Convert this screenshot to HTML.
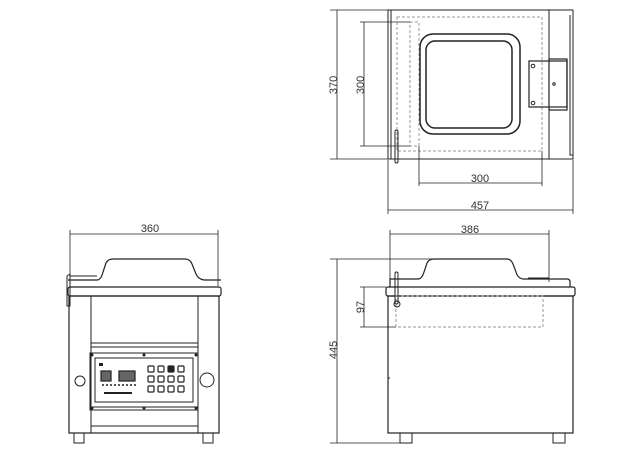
<!DOCTYPE html>
<html><head><style>html,body{margin:0;padding:0;background:#fff}svg{display:block}</style></head>
<body>
<svg width="640" height="452" viewBox="0 0 640 452" xmlns="http://www.w3.org/2000/svg" font-family="Liberation Sans, sans-serif" fill="none" stroke="#222" stroke-width="1">
<!-- TOP VIEW -->
<rect x="388" y="10" width="185" height="149"/>
<line x1="391" y1="10" x2="391" y2="159"/>
<line x1="549" y1="10" x2="549" y2="159"/>
<path d="M570 15 V155 H573"/>
<rect x="397" y="17" width="145" height="134" stroke="#999" stroke-dasharray="3,2"/>
<rect x="410" y="22" width="9" height="124" stroke="#999" stroke-dasharray="3,2"/>
<rect x="420" y="34" width="100" height="100" rx="13" stroke-width="1.5"/>
<rect x="426" y="41" width="86" height="87" rx="9" stroke-width="1.5"/>
<rect x="529" y="61" width="38" height="46" stroke-width="1.2"/>
<rect x="549" y="59" width="18" height="51" stroke-width="1.2"/>
<circle cx="533" cy="66" r="1.8"/><circle cx="533" cy="103" r="1.8"/><circle cx="554" cy="84" r="1.2"/>
<rect x="395" y="130" width="3" height="33" rx="1.5"/>
<!-- dims top -->
<g stroke-width="0.8">
<line x1="330" y1="10" x2="388" y2="10"/><line x1="330" y1="159" x2="388" y2="159"/>
<line x1="337" y1="10" x2="337" y2="159"/>
<line x1="360" y1="22" x2="410" y2="22"/><line x1="360" y1="146" x2="410" y2="146"/>
<line x1="364" y1="22" x2="364" y2="146"/>
<line x1="419" y1="146" x2="419" y2="186"/><line x1="542" y1="151" x2="542" y2="186"/>
<line x1="419" y1="183" x2="542" y2="183"/>
<line x1="388" y1="160" x2="388" y2="214"/><line x1="573" y1="160" x2="573" y2="214"/>
<line x1="388" y1="210" x2="573" y2="210"/>
</g>
<g fill="#333" stroke="none" font-size="11">
<text transform="translate(337,85) rotate(-90)" text-anchor="middle">370</text>
<text transform="translate(364,85) rotate(-90)" text-anchor="middle">300</text>
<text x="480" y="182" text-anchor="middle">300</text>
<text x="480" y="209" text-anchor="middle">457</text>
<text x="150" y="232" text-anchor="middle">360</text>
<text x="470" y="233" text-anchor="middle">386</text>
<text transform="translate(337,350) rotate(-90)" text-anchor="middle">445</text>
<text transform="translate(364,307) rotate(-90)" text-anchor="middle">97</text>
</g>
<!-- FRONT VIEW -->
<g stroke-width="0.8">
<line x1="70" y1="230" x2="70" y2="286"/><line x1="218" y1="230" x2="218" y2="286"/>
<line x1="70" y1="234" x2="218" y2="234"/>
</g>
<path d="M68 280 H97 Q101 280 103 272 L106 263 Q108 259 113 259 H185 Q190 259 192 264 L196 274 Q198 279 204 280 H221" stroke-width="1.2"/>
<path d="M70 274 V306 H67 V276 Z" stroke-width="1"/>
<line x1="70" y1="276" x2="97" y2="276"/>
<rect x="68" y="287" width="153" height="9" rx="2" stroke-width="1.2"/>
<rect x="69" y="296" width="150" height="137" stroke-width="1.2"/>
<line x1="91" y1="296" x2="91" y2="433"/><line x1="198" y1="296" x2="198" y2="433"/>
<line x1="91" y1="343" x2="198" y2="343"/>
<line x1="91" y1="347" x2="198" y2="347"/>
<line x1="91" y1="407" x2="198" y2="407"/>
<line x1="91" y1="426" x2="198" y2="426"/>
<rect x="90" y="353" width="108" height="57"/>
<rect x="95" y="358" width="98" height="44"/>
<g fill="#222" stroke="none">
<circle cx="92" cy="355" r="1.5"/><circle cx="144" cy="355" r="1.5"/><circle cx="196" cy="355" r="1.5"/>
<circle cx="92" cy="408" r="1.5"/><circle cx="144" cy="408" r="1.5"/><circle cx="196" cy="408" r="1.5"/>
<circle cx="103" cy="385" r="1"/><circle cx="107" cy="385" r="1"/><circle cx="111" cy="385" r="1"/><circle cx="115" cy="385" r="1"/><circle cx="119" cy="385" r="1"/><circle cx="123" cy="385" r="1"/><circle cx="127" cy="385" r="1"/><circle cx="131" cy="385" r="1"/><circle cx="135" cy="385" r="1"/>
<rect x="104" y="392" width="28" height="2"/>
<rect x="99" y="363" width="4" height="3"/>
</g>
<rect x="101" y="371" width="10" height="10" fill="#666" stroke-width="1.2"/>
<rect x="119" y="371" width="16" height="10" fill="#666" stroke-width="1.2"/>
<g stroke-width="1.2">
<rect x="148" y="366" width="6" height="6" rx="1"/><rect x="158" y="366" width="6" height="6" rx="1"/><rect x="168" y="366" width="6" height="6" rx="1" fill="#222"/><rect x="178" y="366" width="6" height="6" rx="1"/>
<rect x="148" y="376" width="6" height="6" rx="1"/><rect x="158" y="376" width="6" height="6" rx="1"/><rect x="168" y="376" width="6" height="6" rx="1"/><rect x="178" y="376" width="6" height="6" rx="1"/>
<rect x="148" y="386" width="6" height="6" rx="1"/><rect x="158" y="386" width="6" height="6" rx="1"/><rect x="168" y="386" width="6" height="6" rx="1"/><rect x="178" y="386" width="6" height="6" rx="1"/>
</g>
<circle cx="80" cy="381" r="5"/><circle cx="207" cy="380" r="7"/>
<rect x="74" y="433" width="10" height="10"/><rect x="203" y="433" width="10" height="10"/>
<!-- SIDE VIEW -->
<g stroke-width="0.8">
<line x1="390" y1="230" x2="390" y2="286"/><line x1="549" y1="230" x2="549" y2="282"/>
<line x1="390" y1="234" x2="549" y2="234"/>
<line x1="330" y1="259" x2="432" y2="259"/><line x1="330" y1="443" x2="400" y2="443"/>
<line x1="337" y1="259" x2="337" y2="443"/>
<line x1="360" y1="287" x2="386" y2="287"/><line x1="360" y1="327" x2="396" y2="327"/>
<line x1="364" y1="287" x2="364" y2="327"/>
</g>
<path d="M390 287 V279 H418 Q422 279 424 272 L427 263 Q429 259 434 259 H507 Q511 259 513 264 L516 272 Q518 279 524 279 H567 Q570 279 570 282 V287" stroke-width="1.2"/>
<line x1="528" y1="278" x2="549" y2="278"/>
<rect x="386" y="287" width="189" height="9" rx="2" stroke-width="1.2"/>
<rect x="388" y="296" width="185" height="137" stroke-width="1.2"/>
<rect x="396" y="296" width="147" height="31" stroke="#999" stroke-dasharray="3,2"/>
<rect x="395" y="272" width="3" height="32" rx="1.5"/>
<circle cx="397" cy="304" r="3"/>
<line x1="388" y1="378" x2="390" y2="378"/>
<rect x="400" y="433" width="12" height="10"/><rect x="553" y="433" width="12" height="10"/>
</svg>
</body></html>
